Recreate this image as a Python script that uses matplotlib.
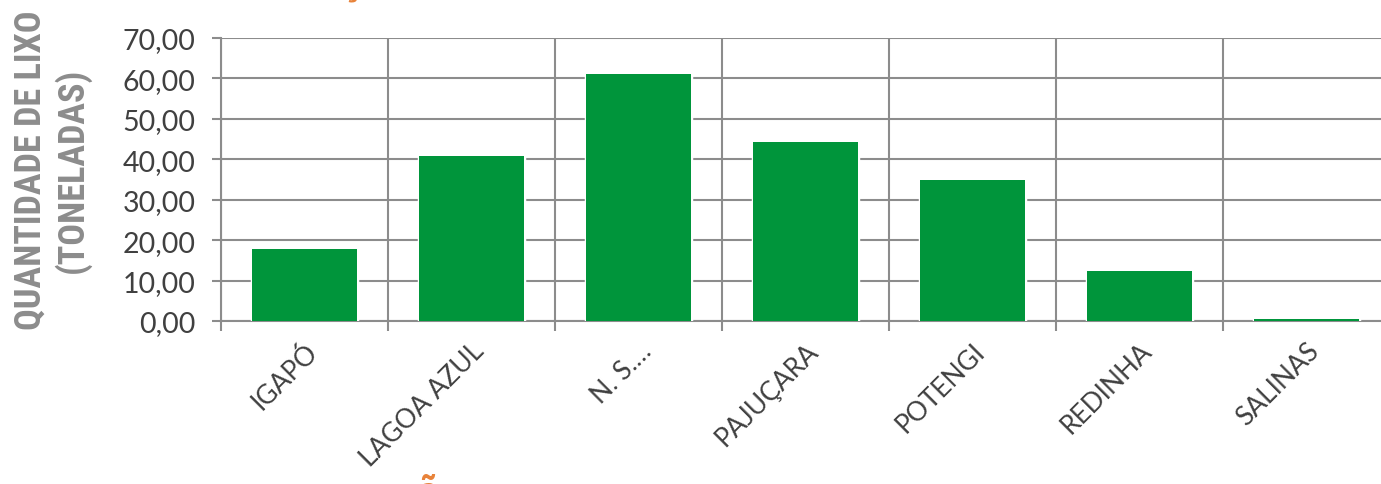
import matplotlib
matplotlib.use("Agg")
import matplotlib.pyplot as plt
from matplotlib import font_manager
import numpy as np

# data
bairros = ["IGAPÓ", "LAGOA AZUL", "N. S.…", "PAJUÇARA", "POTENGI", "REDINHA", "SALINAS"]
toneladas = [17.8, 40.8, 61.1, 44.3, 34.9, 12.4, 0.5]
yticks = [0, 10, 20, 30, 40, 50, 60, 70]
ytick_labels = ["0,00", "10,00", "20,00", "30,00", "40,00", "50,00", "60,00", "70,00"]

verde = "#00953B"
cinza = "#8C8C8C"
texto = "#404040"
laranja = "#E8833A"

fig = plt.figure(figsize=(13.81, 4.85), dpi=100)
ax = fig.add_axes([221 / 1381, 1 - 322 / 485, 1169 / 1381, 283 / 485])

x = np.arange(len(bairros))
# white halo behind the bars so the gridlines stop short of them, then the bars
ax.bar(x, toneladas, width=0.63, color="white", edgecolor="white", linewidth=2.5, zorder=2.8)
ax.bar(x, toneladas, width=0.63, color=verde, linewidth=0, zorder=3)

ax.set_xlim(-0.5, len(bairros) - 0.5)
ax.set_ylim(0, 70)

# horizontal grid + vertical lines at category boundaries
ax.set_yticks(yticks)
ax.set_yticklabels(ytick_labels, fontsize=20.5, color=texto, family="Lato")
ax.set_xticks(x)
ax.set_xticklabels(bairros, rotation=45, ha="right", va="top", rotation_mode="anchor",
                   fontsize=19, color=texto, family="Lato")
ax.set_xticks(np.arange(-0.5, len(bairros) + 0.5, 1), minor=True)

ax.grid(axis="y", which="major", color=cinza, linewidth=1.5, zorder=0)
ax.grid(axis="x", which="minor", color=cinza, linewidth=1.5, zorder=0)
ax.tick_params(axis="y", length=6.5, width=1.5, color=cinza, pad=12)
ax.tick_params(axis="x", which="major", length=0, pad=12)
ax.tick_params(axis="x", which="minor", length=7, width=1.5, color=cinza)

for s in ["top", "right"]:
    ax.spines[s].set_visible(False)
ax.spines["left"].set_color(cinza)
ax.spines["left"].set_linewidth(1.5)
ax.spines["bottom"].set_color(cinza)
ax.spines["bottom"].set_linewidth(1.5)
ax.spines["bottom"].set_zorder(2.5)

# condensed bold for the axis title, whichever is installed
nomes = {f.name for f in font_manager.fontManager.ttflist}
familia = [n for n in ["Liberation Sans Narrow", "DejaVu Sans Condensed", "Roboto Condensed"] if n in nomes]
familia = familia + ["DejaVu Sans"]
fig.text(52 / 1381, 1 - 170 / 485, "QUANTIDADE DE LIXO\n(TONELADAS)", rotation=90, ha="center", va="center",
         fontsize=26, fontweight="bold", color=cinza, family=familia, fontstretch="condensed",
         linespacing=1.15, multialignment="center")

# orange fragments of the slide text cut off by the crop
fig.text(351 / 1381, 1.011, "ç", fontsize=30, fontweight="bold", color=laranja,
         ha="center", va="baseline", family="Lato")
fig.text(428 / 1381, -0.055, "ã", fontsize=30, fontweight="bold", color=laranja,
         ha="center", va="bottom", family="Lato")

fig.savefig("out.png", dpi=100)
